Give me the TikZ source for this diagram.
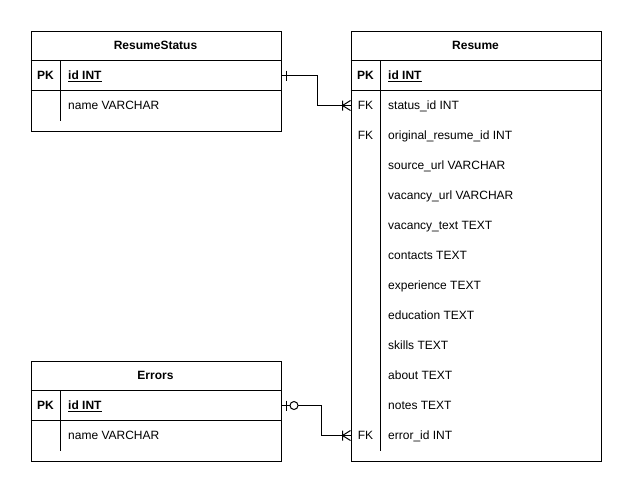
\documentclass[tikz,border=0pt]{standalone}
\usepackage{fontspec}
\setmainfont{Liberation Sans}
\usetikzlibrary{positioning}
\tikzset {
    table box/.style={
        draw=black,
        line width=1pt,
        rectangle, % the outline of one table
        anchor=north west,
        inner sep=0pt,
        minimum width=250pt,
    },
    table head/.style={
        font=\fontsize{12}{14}\selectfont\bfseries,
        inner sep=0pt,
        text height=8.6pt,
        text depth=0pt,
    },
    key cell/.style={
        font=\fontsize{12}{14}\selectfont\bfseries,
        inner sep=0pt,
        text height=8.6pt,
        text depth=0pt,
    },
    fk cell/.style={
        inner sep=0pt,
        text height=8.6pt,
        text depth=0pt,
    },
    field cell/.style={
        anchor=west,
        inner sep=0pt,
        text height=8.6pt,
        text depth=0pt,
    },
    rel line/.style={
        draw=black,
        line width=1pt,
    },
    one mark/.pic={
        \draw[rel line] (0,-5) -- (0,5);
    },
    zero mark/.pic={
        \draw[rel line, fill=white] (0,0) circle (4);
    },
    many mark/.pic={
        \draw[rel line] (0,-5) -- (0,5) (0,0) -- (8,-5) (0,0) -- (8,5);
    },
}

\begin{document}
\begin{tikzpicture}
[x=1pt, y=-1pt, font=\fontsize{12}{14}\selectfont]
\useasboundingbox (0,0) rectangle (631,491);

% ResumeStatus
\node[table box, minimum height=100pt] (rs) at (30.5,30.5) {};
\draw[rel line] (30.5,60.5) -- (280.5,60.5) (30.5,90.5) -- (280.5,90.5);
\draw[rel line] (60.5,60.5) -- (60.5,120.5);
\node[table head] (rstitle) at (155.5,45.5) {ResumeStatus};
\node[key cell] (rspk) at (45.5,75.5) {PK};
\node[field cell, key cell, anchor=west] (rsid) at (68,75.5) {\underline{id INT}};
\node[field cell] (rsname) at (68,105.5) {name VARCHAR};

% Errors
\node[table box, minimum height=100pt] (er) at (30.5,360.5) {};
\draw[rel line] (30.5,390.5) -- (280.5,390.5) (30.5,420.5) -- (280.5,420.5);
\draw[rel line] (60.5,390.5) -- (60.5,450.5);
\node[table head] (ertitle) at (155.5,375.5) {Errors};
\node[key cell] (erpk) at (45.5,405.5) {PK};
\node[field cell, key cell, anchor=west] (erid) at (68,405.5) {\underline{id INT}};
\node[field cell] (ername) at (68,435.5) {name VARCHAR};

% Resume
\node[table box, minimum height=430pt] (resume) at (350.5,30.5) {};
\draw[rel line] (350.5,60.5) -- (600.5,60.5) (350.5,90.5) -- (600.5,90.5);
\draw[rel line] (380.5,60.5) -- (380.5,450.5);
\node[table head] (resumetitle) at (475.5,45.5) {Resume};
\node[key cell] (resumepk) at (365.5,75.5) {PK};
\node[field cell, key cell, anchor=west] (resumeid) at (388,75.5) {\underline{id INT}};
\foreach \fname [count=\i from 0] in {status\_id INT, original\_resume\_id INT,
    source\_url VARCHAR, vacancy\_url VARCHAR, vacancy\_text TEXT, contacts TEXT,
    experience TEXT, education TEXT, skills TEXT, about TEXT, notes TEXT, error\_id INT}
    \node[field cell] (resume-\i) at (388,{105.5+30*\i}) {\fname};
\foreach \i in {0,1,11}
    \node[fk cell] (fk-\i) at (365.5,{105.5+30*\i}) {FK};

% relations
\draw[rel line] (rsid -| rs.east) -- ++(36,0) |- (resume-0 -| resume.west);
\path (rsid -| rs.east) ++(5,0) pic {one mark};
\path (resume-0 -| resume.west) ++(-8,0) pic {many mark};

\draw[rel line] (erid -| er.east) -- ++(40,0) |- (resume-11 -| resume.west);
\path (erid -| er.east) ++(5,0) pic {one mark};
\path (erid -| er.east) ++(12.5,0) pic {zero mark};
\path (resume-11 -| resume.west) ++(-8,0) pic {many mark};
\end{tikzpicture}
\end{document}
